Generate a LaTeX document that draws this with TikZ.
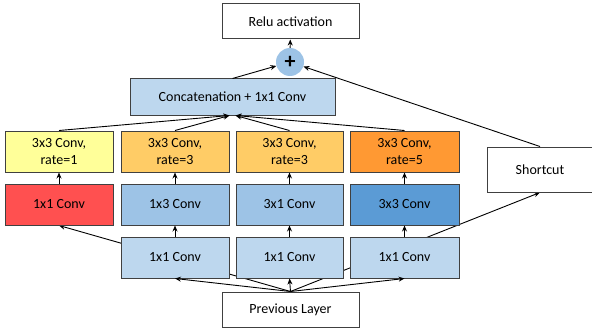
\documentclass[tikz,border=0pt]{standalone}
\usepackage{fontspec}
\setmainfont{Carlito}
\usetikzlibrary{arrows.meta,backgrounds}
\definecolor{cyellow}{HTML}{FFFF99}
\definecolor{corange}{HTML}{FFCC66}
\definecolor{cdorange}{HTML}{FF9933}
\definecolor{cred}{HTML}{FF5050}
\definecolor{cblue}{HTML}{9DC3E6}
\definecolor{cdblue}{HTML}{5B9BD5}
\definecolor{clblue}{HTML}{BDD7EE}
\definecolor{cborder}{HTML}{404040}
\tikzset{
  box/.style={draw=cborder, line width=1pt, inner sep=0pt, align=center, font=\fontsize{14}{17}\selectfont},
  arr/.style={-{Stealth[length=6pt,width=5pt]}, line width=0.9pt, black},
}
\newcommand{\bx}[7]{% name, x1, y1, x2, y2, fill, text
  \node[box, fill=#6, minimum width={(#4-#2)*1pt}, minimum height={(#5-#3)*1pt}] (#1) at ({(#2+#4)/2}, {-(#3+#5)/2}) {#7};}
\begin{document}
\begin{tikzpicture}[x=1pt,y=1pt]
\useasboundingbox (0,0) rectangle (592,-329);
\bx{relu}{222}{4}{359}{39}{white}{Relu activation}
\node[circle, fill=cblue, minimum size=28pt, inner sep=0pt, font=\fontsize{22}{22}\selectfont\bfseries] (plus) at (290,-62) {+};
\bx{concat}{130}{79}{335}{115}{clblue}{Concatenation + 1x1 Conv}
\bx{a1}{5}{131}{113}{172}{cyellow}{3x3 Conv,\\rate=1}
\bx{b1}{121}{131}{229}{172}{corange}{3x3 Conv,\\rate=3}
\bx{c1}{236}{131}{343}{172}{corange}{3x3 Conv,\\rate=3}
\bx{d1}{350}{131}{459}{172}{cdorange}{3x3 Conv,\\rate=5}
\bx{a2}{5}{184}{113}{225}{cred}{1x1 Conv}
\bx{b2}{121}{184}{229}{225}{cblue}{1x3 Conv}
\bx{c2}{236}{184}{343}{225}{cblue}{3x1 Conv}
\bx{d2}{350}{184}{459}{225}{cdblue}{3x3 Conv}
\bx{b3}{121}{237}{229}{278}{clblue}{1x1 Conv}
\bx{c3}{236}{237}{343}{278}{clblue}{1x1 Conv}
\bx{d3}{350}{237}{459}{278}{clblue}{1x1 Conv}
\bx{prev}{222}{292}{359}{327}{white}{Previous Layer}
\bx{short}{487}{147}{593}{192}{white}{Shortcut}
\coordinate (cl) at ([xshift=-3pt]concat.south);
\coordinate (cr) at ([xshift=3pt]concat.south);
\begin{scope}[on background layer]
\draw[arr] (prev.north) -- (a2.south);
\draw[arr] (prev.north) -- (short.south);
\end{scope}
\draw[arr] (prev.north) -- (b3.south);
\draw[arr] (prev.north) -- (c3.south);
\draw[arr] (prev.north) -- (d3.south);
\draw[arr] (b3) -- (b2);
\draw[arr] (c3) -- (c2);
\draw[arr] (d3) -- (d2);
\draw[arr] (a2) -- (a1);
\draw[arr] (b2) -- (b1);
\draw[arr] (c2) -- (c1);
\draw[arr] (d2) -- (d1);
\draw[arr] (a1.north) -- (cl);
\draw[arr] (b1.north) -- (cl);
\draw[arr] (c1.north) -- (cr);
\draw[arr] (d1.north) -- (cr);
\draw[arr] (concat.north) -- (plus);
\draw[arr] (short.north) -- (plus);
\draw[arr] (plus) -- (relu);
\end{tikzpicture}
\end{document}
